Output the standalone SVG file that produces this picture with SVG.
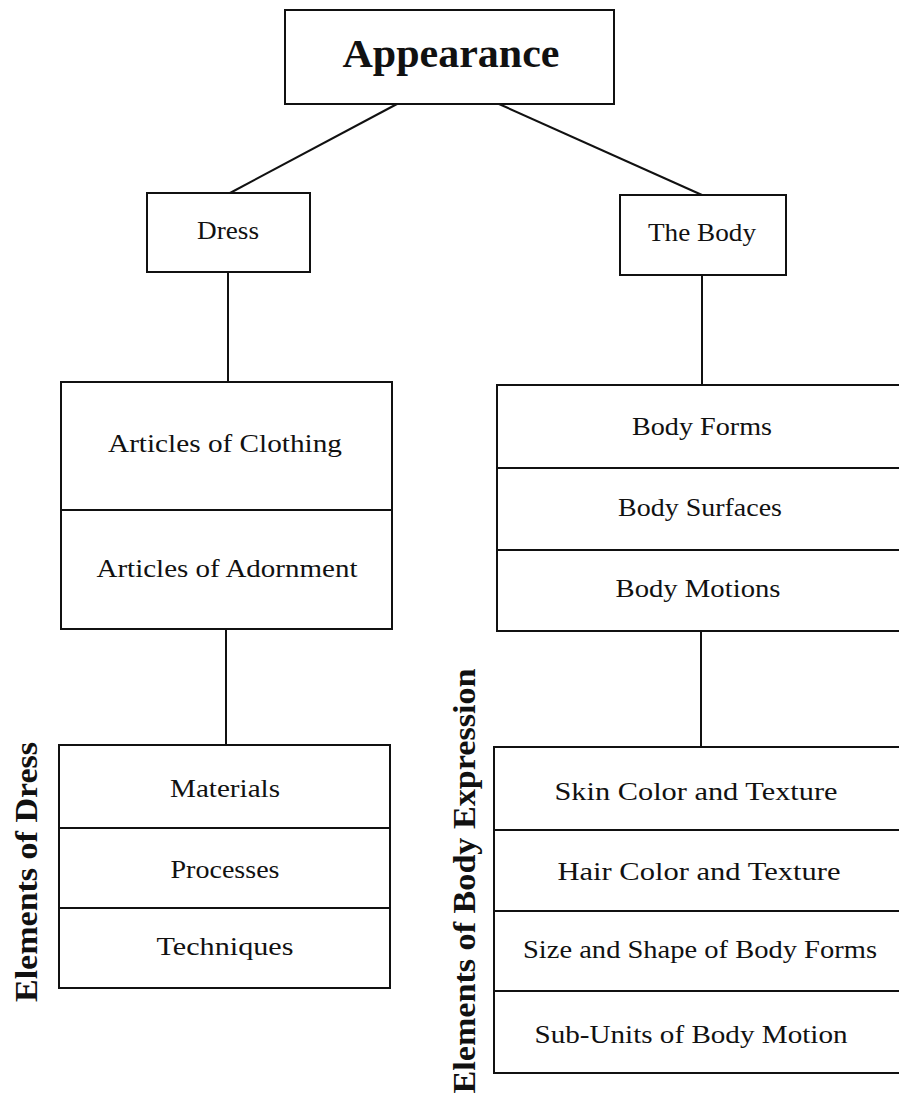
<svg xmlns="http://www.w3.org/2000/svg" width="899" height="1097" viewBox="0 0 899 1097">
  <style>
    .box { fill: none; stroke: #111; stroke-width: 2; }
    .div { stroke: #111; stroke-width: 2; }
    .link { stroke: #111; stroke-width: 2; fill: none; }
    .t { font-family: "Liberation Serif", "Times New Roman", serif; font-size: 26px; fill: #111; text-anchor: middle; }
    .title { font-family: "Liberation Serif", "Times New Roman", serif; font-size: 41px; font-weight: bold; fill: #111; text-anchor: middle; }
    .side { font-family: "Liberation Serif", "Times New Roman", serif; font-size: 32px; font-weight: bold; fill: #111; text-anchor: middle; }
  </style>
  <rect width="899" height="1097" fill="#fff"/>

  <!-- connectors -->
  <g id="connectors">
    <line class="link" x1="397" y1="104" x2="230" y2="193"/>
    <line class="link" x1="499" y1="104" x2="702" y2="195"/>
    <line class="link" x1="228" y1="272" x2="228" y2="382"/>
    <line class="link" x1="702" y1="275" x2="702" y2="385"/>
    <line class="link" x1="226" y1="629" x2="226" y2="745"/>
    <line class="link" x1="701" y1="631" x2="701" y2="747"/>
  </g>

  <!-- root -->
  <g id="appearance">
    <rect class="box" x="285" y="10" width="329" height="94"/>
    <text class="title" x="451" y="67" textLength="217" lengthAdjust="spacingAndGlyphs">Appearance</text>
  </g>

  <g id="dress">
    <rect class="box" x="147" y="193" width="163" height="79"/>
    <text class="t" x="228" y="239" textLength="62" lengthAdjust="spacingAndGlyphs">Dress</text>
  </g>

  <g id="the-body">
    <rect class="box" x="620" y="195" width="166" height="80"/>
    <text class="t" x="702" y="241" textLength="108" lengthAdjust="spacingAndGlyphs">The Body</text>
  </g>

  <g id="articles">
    <rect class="box" x="61" y="382" width="331" height="247"/>
    <line class="div" x1="61" y1="510" x2="392" y2="510"/>
    <text class="t" x="225" y="452" textLength="234" lengthAdjust="spacingAndGlyphs">Articles of Clothing</text>
    <text class="t" x="227" y="577" textLength="261" lengthAdjust="spacingAndGlyphs">Articles of Adornment</text>
  </g>

  <g id="body-parts">
    <rect class="box" x="497" y="385" width="420" height="246"/>
    <line class="div" x1="497" y1="468" x2="917" y2="468"/>
    <line class="div" x1="497" y1="550" x2="917" y2="550"/>
    <text class="t" x="702" y="435" textLength="140" lengthAdjust="spacingAndGlyphs">Body Forms</text>
    <text class="t" x="700" y="516" textLength="164" lengthAdjust="spacingAndGlyphs">Body Surfaces</text>
    <text class="t" x="698" y="597" textLength="165" lengthAdjust="spacingAndGlyphs">Body Motions</text>
  </g>

  <g id="elements-of-dress">
    <rect class="box" x="59" y="745" width="331" height="243"/>
    <line class="div" x1="59" y1="828" x2="390" y2="828"/>
    <line class="div" x1="59" y1="908" x2="390" y2="908"/>
    <text class="t" x="225" y="797" textLength="110" lengthAdjust="spacingAndGlyphs">Materials</text>
    <text class="t" x="225" y="878" textLength="109" lengthAdjust="spacingAndGlyphs">Processes</text>
    <text class="t" x="225" y="955" textLength="137" lengthAdjust="spacingAndGlyphs">Techniques</text>
    <text class="side" transform="translate(37,872) rotate(-90)" textLength="260" lengthAdjust="spacingAndGlyphs">Elements of Dress</text>
  </g>

  <g id="elements-of-body-expression">
    <rect class="box" x="494" y="747" width="423" height="326"/>
    <line class="div" x1="494" y1="830" x2="917" y2="830"/>
    <line class="div" x1="494" y1="911" x2="917" y2="911"/>
    <line class="div" x1="494" y1="991" x2="917" y2="991"/>
    <text class="t" x="696" y="800" textLength="283" lengthAdjust="spacingAndGlyphs">Skin Color and Texture</text>
    <text class="t" x="699" y="880" textLength="283" lengthAdjust="spacingAndGlyphs">Hair Color and Texture</text>
    <text class="t" x="700" y="958" textLength="354" lengthAdjust="spacingAndGlyphs">Size and Shape of Body Forms</text>
    <text class="t" x="691" y="1043" textLength="313" lengthAdjust="spacingAndGlyphs">Sub-Units of Body Motion</text>
    <text class="side" transform="translate(475,881) rotate(-90)" textLength="425" lengthAdjust="spacingAndGlyphs">Elements of Body Expression</text>
  </g>
</svg>
